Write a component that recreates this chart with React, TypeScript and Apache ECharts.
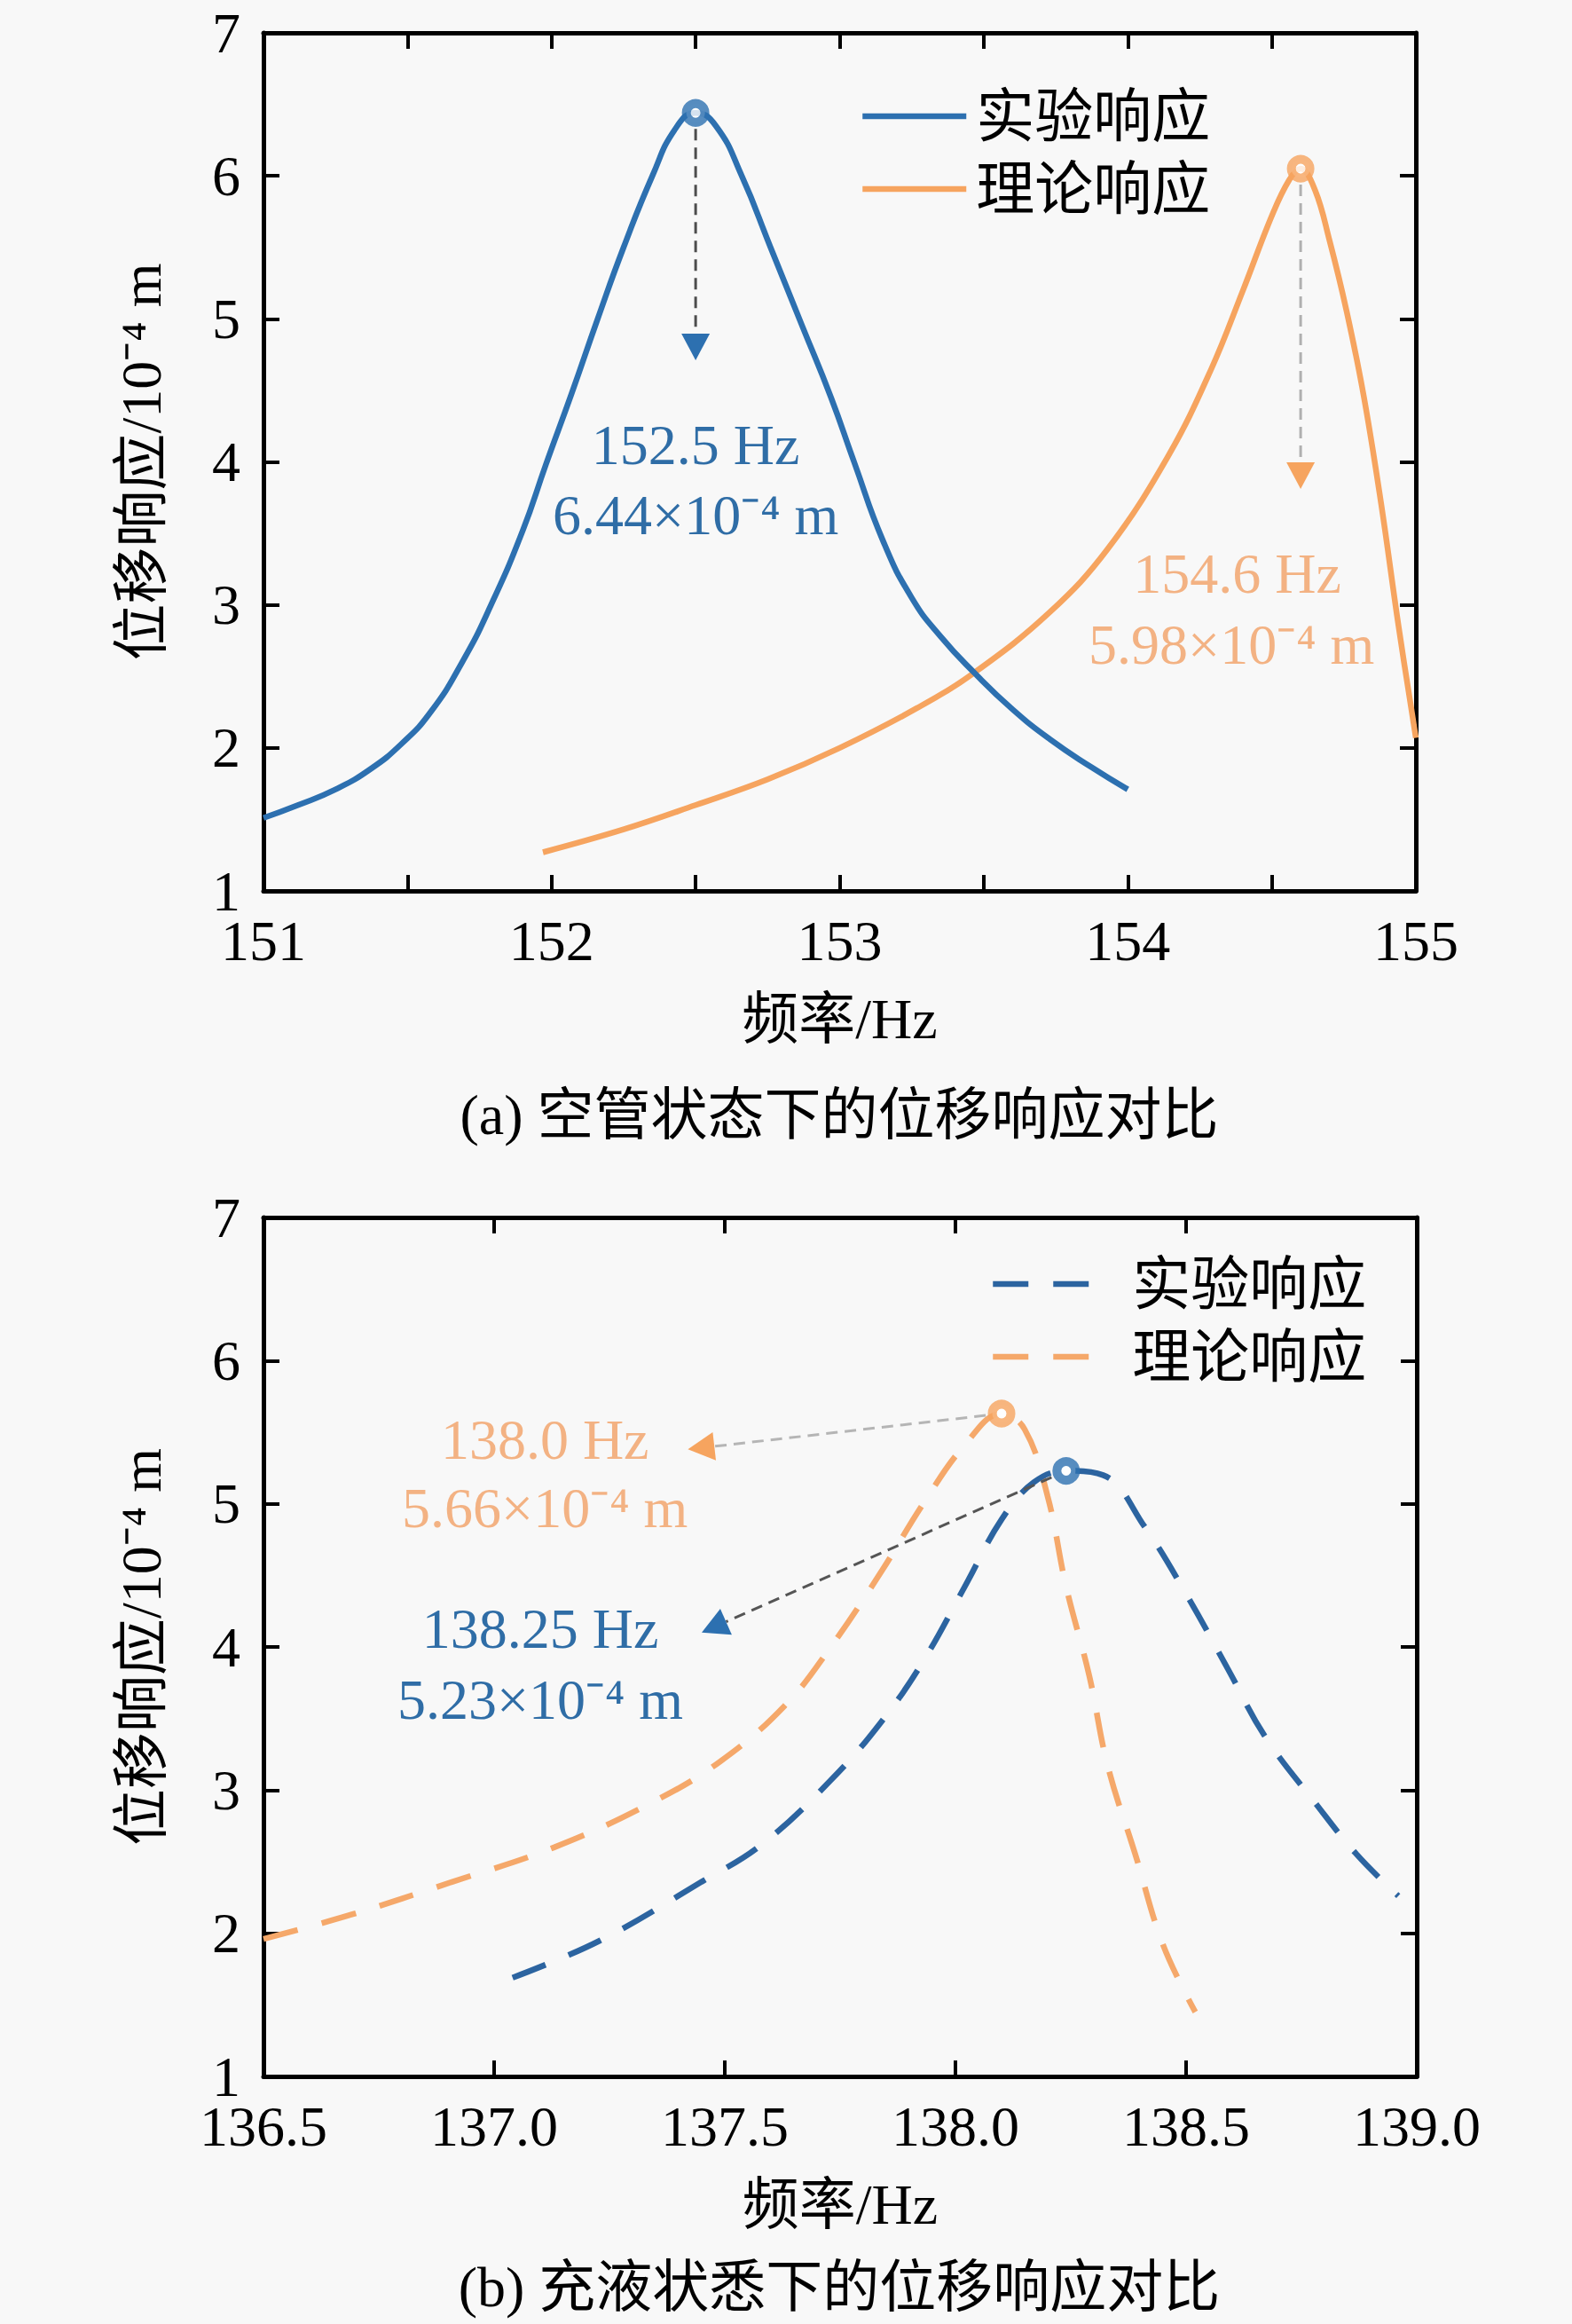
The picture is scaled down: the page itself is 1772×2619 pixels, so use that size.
import React, { useEffect, useRef } from "react";
import * as echarts from "echarts";

// ---------- data ----------
// (a) empty pipe
const A_EXP_X = [151.0, 151.12, 151.25, 151.37, 151.48, 151.58, 151.69, 151.79, 151.9, 151.98, 152.07, 152.16, 152.25, 152.35, 152.43, 152.5, 152.57, 152.66, 152.76, 152.87, 152.97, 153.05, 153.15, 153.25, 153.35, 153.47, 153.6, 153.73, 153.87, 154.0];
const A_EXP_Y = [1.51, 1.6, 1.71, 1.85, 2.03, 2.25, 2.6, 3.0, 3.52, 3.98, 4.48, 5.0, 5.5, 6.0, 6.33, 6.44, 6.35, 6.0, 5.5, 4.95, 4.45, 4.0, 3.45, 3.05, 2.78, 2.52, 2.27, 2.06, 1.87, 1.71];
const A_THEO_X = [151.97, 152.25, 152.5, 152.75, 153.0, 153.27, 153.47, 153.73, 153.93, 154.14, 154.29, 154.4, 154.5, 154.56, 154.6, 154.65, 154.7, 154.76, 154.82, 154.88, 154.94, 155.0];
const A_THEO_Y = [1.27, 1.43, 1.6, 1.78, 2.0, 2.28, 2.53, 2.95, 3.39, 4.04, 4.65, 5.2, 5.72, 5.97, 6.05, 5.9, 5.55, 5.05, 4.45, 3.7, 2.85, 2.07];
const A_PEAK_EXP = [152.5, 6.44];
const A_PEAK_THEO = [154.6, 6.05];
const A_TIP_EXP = [152.5, 4.71];
const A_TIP_THEO = [154.6, 3.81];
const A_LBL_EXP = { pos1: [152.5, 4.12], pos2: [152.5, 3.63], t1: "152.5 Hz", t2: "6.44×10⁻⁴ m" };
const A_LBL_THEO = { pos1: [154.38, 3.22], pos2: [154.36, 2.72], t1: "154.6 Hz", t2: "5.98×10⁻⁴ m" };

// (b) liquid filled
const B_EXP_X = [137.04, 137.23, 137.45, 137.58, 137.73, 137.84, 137.93, 138.02, 138.1, 138.17, 138.24, 138.32, 138.41, 138.5, 138.59, 138.67, 138.78, 138.87, 138.96];
const B_EXP_Y = [1.69, 1.95, 2.36, 2.62, 3.07, 3.48, 3.9, 4.42, 4.89, 5.15, 5.23, 5.2, 4.84, 4.37, 3.85, 3.38, 2.91, 2.55, 2.26];
const B_THEO_X = [136.5, 136.69, 136.91, 137.13, 137.34, 137.49, 137.63, 137.73, 137.84, 137.93, 138.02, 138.1, 138.15, 138.2, 138.24, 138.29, 138.33, 138.39, 138.45, 138.52];
const B_THEO_Y = [1.96, 2.13, 2.36, 2.6, 2.91, 3.2, 3.59, 4.0, 4.53, 5.0, 5.41, 5.63, 5.52, 5.05, 4.42, 3.8, 3.17, 2.55, 1.92, 1.45];
const B_PEAK_EXP = [138.24, 5.23];
const B_PEAK_THEO = [138.1, 5.63];
const B_TIP_EXP = [137.45, 4.1];
const B_TIP_THEO = [137.42, 5.38];
const B_LBL_EXP = { pos1: [137.1, 4.13], pos2: [137.1, 3.63], t1: "138.25 Hz", t2: "5.23×10⁻⁴ m" };
const B_LBL_THEO = { pos1: [137.11, 5.45], pos2: [137.11, 4.97], t1: "138.0 Hz", t2: "5.66×10⁻⁴ m" };

const LEGEND_LABELS: Record<string, string> = { exp1: "实验响应", theo1: "理论响应", exp2: "实验响应", theo2: "理论响应" };
const X_NAME = "频率/Hz";
const Y_NAME = "位移响应/10⁻⁴ m";
const CAPTION_A = "(a) 空管状态下的位移响应对比";
const CAPTION_B = "(b) 充液状悉下的位移响应对比";

// ---------- style ----------
const FONT = "'Liberation Serif', 'Times New Roman', 'Noto Sans CJK SC', serif";
const BLUE = "#2d70b0";
const ORANGE = "#f6a45f";
const BLUE_B = "#2c64a0";
const ORANGE_B = "#f5a86a";
const BLUE_TXT = "#2f6da6";
const ORANGE_TXT = "#f3b283";
const AXIS_W = 5;
const LINE_W = 6.5;

const zip = (xs: number[], ys: number[]) => xs.map((x, i) => [x, ys[i]]);

function xAxisPair(gridIndex: number, min: number, max: number, fmt: (v: number) => string) {
  const base = {
    type: "value",
    gridIndex,
    min,
    max,
    interval: 0.5,
    axisLine: { show: true, onZero: false, lineStyle: { color: "#000", width: AXIS_W } },
    axisTick: { show: true, inside: true, length: 18, lineStyle: { color: "#000", width: 4 } },
    splitLine: { show: false },
  };
  return [
    {
      ...base,
      position: "bottom",
      axisLabel: { show: true, margin: 24, fontSize: 64, color: "#000", fontFamily: FONT, formatter: fmt },
      name: X_NAME,
      nameLocation: "middle",
      nameGap: 112,
      nameTextStyle: { fontSize: 64, color: "#000", fontFamily: FONT },
    },
    { ...base, position: "top", axisLabel: { show: false } },
  ];
}

function yAxisPair(gridIndex: number) {
  const base = {
    type: "value",
    gridIndex,
    min: 1,
    max: 7,
    interval: 1,
    axisLine: { show: true, onZero: false, lineStyle: { color: "#000", width: AXIS_W } },
    axisTick: { show: true, inside: true, length: 18, lineStyle: { color: "#000", width: 4 } },
    splitLine: { show: false },
  };
  return [
    {
      ...base,
      position: "left",
      axisLabel: { show: true, margin: 26, fontSize: 64, color: "#000", fontFamily: FONT },
      name: Y_NAME,
      nameLocation: "middle",
      nameGap: 106,
      nameRotate: 90,
      nameTextStyle: { fontSize: 64, color: "#000", fontFamily: FONT },
    },
    { ...base, position: "right", axisLabel: { show: false } },
  ];
}

export default function App() {
  const ref = useRef<HTMLDivElement>(null);

  useEffect(() => {
    document.body.style.margin = "0";
    const chart = echarts.init(ref.current as HTMLDivElement, null, { renderer: "svg" });

    const legendBase = {
      orient: "vertical",
      padding: 0,
      itemHeight: 20,
      itemGap: 16,
      itemStyle: { opacity: 0 },
      lineStyle: { width: LINE_W },
      formatter: (n: string) => LEGEND_LABELS[n],
    };

    const option: any = {
      animation: false,
      backgroundColor: "#f8f8f8",
      grid: [
        { left: 297, top: 37, width: 1299, height: 967 },
        { left: 297, top: 1372, width: 1300, height: 968 },
      ],
      xAxis: [
        ...xAxisPair(0, 151, 155, (v: number) => (Math.abs(v - Math.round(v)) < 1e-6 ? String(Math.round(v)) : "")),
        ...xAxisPair(1, 136.5, 139.0, (v: number) => v.toFixed(1)),
      ],
      yAxis: [...yAxisPair(0), ...yAxisPair(1)],
      legend: [
        {
          ...legendBase,
          left: 969,
          top: 98,
          itemWidth: 117,
          data: ["exp1", "theo1"],
          textStyle: { fontSize: 66, lineHeight: 62, color: "#000", fontFamily: FONT, padding: [0, 0, 0, 6] },
        },
        {
          ...legendBase,
          left: 1116,
          top: 1414,
          itemWidth: 128,
          data: ["exp2", "theo2"],
          textStyle: { fontSize: 66, lineHeight: 62, color: "#000", fontFamily: FONT, padding: [0, 0, 0, 24] },
        },
      ],
      series: [
        {
          name: "exp1", type: "line", xAxisIndex: 0, yAxisIndex: 0, data: zip(A_EXP_X, A_EXP_Y),
          symbol: "none", showSymbol: false, smooth: 0.5, lineStyle: { color: BLUE, width: LINE_W }, itemStyle: { color: BLUE }, z: 3,
        },
        {
          name: "theo1", type: "line", xAxisIndex: 0, yAxisIndex: 0, data: zip(A_THEO_X, A_THEO_Y),
          symbol: "none", showSymbol: false, smooth: 0.4, lineStyle: { color: ORANGE, width: LINE_W }, itemStyle: { color: ORANGE }, z: 2,
        },
        {
          name: "exp2", type: "line", xAxisIndex: 2, yAxisIndex: 2, data: zip(B_EXP_X, B_EXP_Y),
          symbol: "none", showSymbol: false, smooth: 0.4, lineStyle: { color: BLUE_B, width: LINE_W, type: [40, 28] }, itemStyle: { color: BLUE_B }, z: 3,
        },
        {
          name: "theo2", type: "line", xAxisIndex: 2, yAxisIndex: 2, data: zip(B_THEO_X, B_THEO_Y),
          symbol: "none", showSymbol: false, smooth: 0.4, lineStyle: { color: ORANGE_B, width: LINE_W, type: [40, 28] }, itemStyle: { color: ORANGE_B }, z: 2,
        },
        {
          name: "peaks1", type: "scatter", xAxisIndex: 0, yAxisIndex: 0, symbol: "circle", symbolSize: 21, z: 6,
          data: [
            { value: A_PEAK_EXP, itemStyle: { color: "#fff", borderColor: BLUE, borderWidth: 10 } },
            { value: A_PEAK_THEO, itemStyle: { color: "#fff", borderColor: ORANGE, borderWidth: 10 } },
          ],
        },
        {
          name: "peaks2", type: "scatter", xAxisIndex: 2, yAxisIndex: 2, symbol: "circle", symbolSize: 21, z: 6,
          data: [
            { value: B_PEAK_EXP, itemStyle: { color: "#fff", borderColor: BLUE, borderWidth: 10 } },
            { value: B_PEAK_THEO, itemStyle: { color: "#fff", borderColor: ORANGE, borderWidth: 10 } },
          ],
        },
      ],
    };
    chart.setOption(option);

    const px = (si: number, p: number[]) => chart.convertToPixel({ seriesIndex: si }, p) as number[];
    const graphics: any[] = [];

    const arrow = (si: number, from: number[], to: number[], lineColor: string, headColor: string) => {
      const a = px(si, from);
      const b = px(si, to);
      const dx = b[0] - a[0];
      const dy = b[1] - a[1];
      const len = Math.sqrt(dx * dx + dy * dy);
      const ux = dx / len;
      const uy = dy / len;
      const head = 30;
      const halfW = 16;
      const startOff = 18;
      const bx = b[0] - ux * head;
      const by = b[1] - uy * head;
      graphics.push({
        type: "line",
        z: 5,
        shape: { x1: a[0] + ux * startOff, y1: a[1] + uy * startOff, x2: bx, y2: by },
        style: { stroke: lineColor, lineWidth: 3, lineDash: [13, 8] },
      });
      graphics.push({
        type: "polygon",
        z: 5,
        shape: {
          points: [
            [b[0], b[1]],
            [bx - uy * halfW, by + ux * halfW],
            [bx + uy * halfW, by - ux * halfW],
          ],
        },
        style: { fill: headColor },
      });
    };

    const label = (si: number, l: { pos1: number[]; pos2: number[]; t1: string; t2: string }, color: string) => {
      [[l.pos1, l.t1], [l.pos2, l.t2]].forEach(([pos, t]: any) => {
        const p = px(si, pos);
        graphics.push({
          type: "text",
          x: p[0],
          y: p[1],
          z: 7,
          style: { text: t, fill: color, fontSize: 64, fontFamily: FONT, align: "center", verticalAlign: "middle" },
        });
      });
    };

    arrow(0, A_PEAK_EXP, A_TIP_EXP, "#4d4d4d", BLUE);
    arrow(0, A_PEAK_THEO, A_TIP_THEO, "#b0b0b0", ORANGE);
    arrow(2, B_PEAK_THEO, B_TIP_THEO, "#b5b5b5", ORANGE);
    arrow(2, B_PEAK_EXP, B_TIP_EXP, "#555555", BLUE);
    label(0, A_LBL_EXP, BLUE_TXT);
    label(0, A_LBL_THEO, ORANGE_TXT);
    label(2, B_LBL_THEO, ORANGE_TXT);
    label(2, B_LBL_EXP, BLUE_TXT);

    graphics.push({
      type: "text", x: 946, y: 1256,
      style: { text: CAPTION_A, fill: "#000", fontSize: 64, fontFamily: FONT, align: "center", verticalAlign: "middle" },
    });
    graphics.push({
      type: "text", x: 946, y: 2577,
      style: { text: CAPTION_B, fill: "#000", fontSize: 64, fontFamily: FONT, align: "center", verticalAlign: "middle" },
    });

    chart.setOption({ graphic: graphics });

    return () => chart.dispose();
  }, []);

  return (
    <div
      ref={ref}
      style={{ position: "absolute", left: 0, top: 0, width: 1772, height: 2619 }}
    />
  );
}
